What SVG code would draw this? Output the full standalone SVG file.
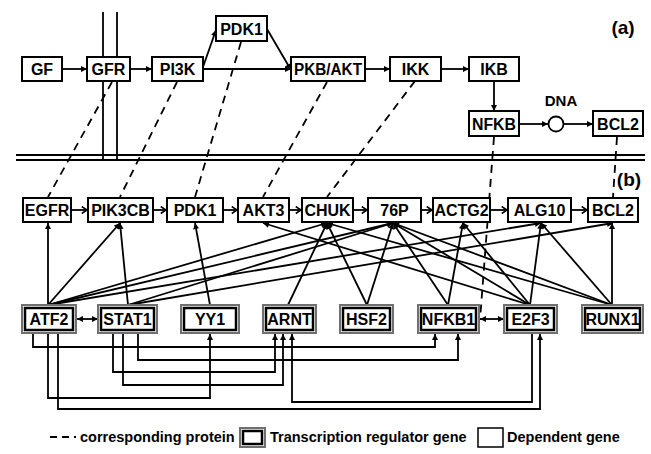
<svg xmlns="http://www.w3.org/2000/svg" width="651" height="454" viewBox="0 0 651 454">
<defs>
<marker id="ah" viewBox="0 0 8 8" refX="8" refY="4" markerWidth="7" markerHeight="6" orient="auto-start-reverse" markerUnits="userSpaceOnUse"><path d="M0,0 L8,4 L0,8 z" fill="#000"/></marker>
<marker id="ch" viewBox="0 0 8 10" refX="7" refY="5" markerWidth="7" markerHeight="9" orient="auto" markerUnits="userSpaceOnUse"><path d="M1,1 L7,5 L1,9" fill="none" stroke="#000" stroke-width="1.8"/></marker>
</defs>
<style>
.b{fill:#fff;stroke:#000;stroke-width:2}
.ro{fill:#fff;stroke:#707070;stroke-width:2}
.ri{fill:none;stroke:#000;stroke-width:2.5}
.t{font-family:"Liberation Sans",Arial,sans-serif;font-weight:bold;font-size:16px;text-anchor:middle}
.e{stroke:#000;stroke-width:1.8;fill:none}
.a{marker-end:url(#ah)}
.c{marker-end:url(#ch)}
.d{stroke:#000;stroke-width:1.8;fill:none;stroke-dasharray:8 6}
.mem{stroke:#000;stroke-width:1.8;fill:none}
.lg{font-family:"Liberation Sans",Arial,sans-serif;font-weight:bold;font-size:14.5px}
</style>
<rect width="651" height="454" fill="#fff"/>

<g id="membrane">
<path class="mem" d="M16,155 H645 M16,160 H645 M103,12 V160 M117,12 V160"/>
</g>

<g id="connectors">
<path class="e a" d="M62,69 H87"/>
<path class="e a" d="M130,69 H152"/>
<path class="e a" d="M203,67 L216,30"/>
<path class="e a" d="M203,69 H291"/>
<path class="e a" d="M267,29 L291,70"/>
<path class="e a" d="M365,69 H390"/>
<path class="e a" d="M441,69 H469"/>
<path class="e a" d="M494,81 V111"/>
<path class="e a" d="M519,124 H548"/>
<path class="e a" d="M564,124 H593"/>
<path class="d" d="M112,82 L48,197"/>
<path class="d" d="M177,82 L120,197"/>
<path class="d" d="M241,42 L195,197"/>
<path class="d" d="M327,82 L263,197"/>
<path class="d" d="M415,81 L327,197"/>
<path class="d" d="M494,137 L480,320"/>
<path class="d" d="M617,137 L613,197"/>
<path class="e c" d="M71,210 H87"/>
<path class="e c" d="M153,210 H166"/>
<path class="e c" d="M223,210 H237"/>
<path class="e c" d="M289,210 H301"/>
<path class="e c" d="M353,210 H367"/>
<path class="e c" d="M421,210 H432"/>
<path class="e c" d="M490,210 H507"/>
<path class="e c" d="M571,210 H587"/>
<path class="e a" d="M48,305 V223"/>
<path class="e a" d="M48,305 L120,223"/>
<path class="e a" d="M128,305 L120,223"/>
<path class="e a" d="M210,305 L195,223"/>
<path class="e a" d="M530,305 L263,223"/>
<path class="e a" d="M48,305 L327,223"/>
<path class="e a" d="M288,305 L327,223"/>
<path class="e a" d="M367,305 L327,223"/>
<path class="e a" d="M48,305 L393,223"/>
<path class="e a" d="M128,305 L393,223"/>
<path class="e a" d="M367,305 L393,223"/>
<path class="e a" d="M448,305 L393,223"/>
<path class="e a" d="M530,305 L393,223"/>
<path class="e a" d="M612,305 L393,223"/>
<path class="e a" d="M612,305 L327,223"/>
<path class="e a" d="M448,305 L463,223"/>
<path class="e a" d="M530,305 L463,223"/>
<path class="e a" d="M48,305 L541,223"/>
<path class="e a" d="M530,305 L541,223"/>
<path class="e a" d="M612,305 L541,223"/>
<path class="e a" d="M128,305 L613,223"/>
<path class="e a" d="M612,305 V223"/>
<path class="e a" d="M33,333 V347 H435 V334"/>
<path class="e a" d="M48,333 V398 H210 V334"/>
<path class="e a" d="M58,333 V409 H540 V334"/>
<path class="e a" d="M113,333 V372 H275 V334"/>
<path class="e a" d="M123,333 V385 H283 V334"/>
<path class="e a" d="M138,333 V360 H458 V334"/>
<path class="e a" d="M532,333 V402 H292 V334"/>
<path class="e a" d="M77,319 H98" style="marker-start:url(#ah)"/>
<path class="e a" d="M480,319 H504" style="marker-start:url(#ah)"/>
</g>

<g id="a_GF"><rect class="b" x="22" y="57" width="40" height="24"/><text class="t" x="42" y="75">GF</text></g>
<g id="a_GFR"><rect class="b" x="87" y="57" width="43" height="24"/><text class="t" x="108.5" y="75">GFR</text></g>
<g id="a_PI3K"><rect class="b" x="152" y="57" width="51" height="24"/><text class="t" x="177.5" y="75">PI3K</text></g>
<g id="a_PDK1"><rect class="b" x="216" y="16" width="51" height="25"/><text class="t" x="241.5" y="34.5">PDK1</text></g>
<g id="a_PKBAKT"><rect class="b" x="291" y="57" width="74" height="24"/><text class="t" x="328" y="75" textLength="68" lengthAdjust="spacingAndGlyphs">PKB/AKT</text></g>
<g id="a_IKK"><rect class="b" x="390" y="57" width="51" height="24"/><text class="t" x="415.5" y="75">IKK</text></g>
<g id="a_IKB"><rect class="b" x="469" y="57" width="50" height="24"/><text class="t" x="494" y="75">IKB</text></g>
<g id="a_NFKB"><rect class="b" x="469" y="111" width="50" height="25"/><text class="t" x="494" y="129.5" textLength="44" lengthAdjust="spacingAndGlyphs">NFKB</text></g>
<g id="a_DNA"><circle cx="556" cy="124" r="7.5" fill="#fff" stroke="#000" stroke-width="1.8"/><text class="t" x="561" y="106" style="font-size:15px">DNA</text></g>
<g id="a_BCL2"><rect class="b" x="593" y="111" width="50" height="25"/><text class="t" x="618" y="129.5">BCL2</text></g>
<text class="t" x="623" y="34" style="font-size:19px">(a)</text>
<text class="t" x="629" y="186" style="font-size:19px">(b)</text>

<g id="b_EGFR"><rect class="b" x="23" y="198" width="48" height="24"/><text class="t" x="47" y="216">EGFR</text></g>
<g id="b_PIK3CB"><rect class="b" x="88" y="198" width="65" height="24"/><text class="t" x="120.5" y="216">PIK3CB</text></g>
<g id="b_PDK1"><rect class="b" x="167" y="198" width="56" height="24"/><text class="t" x="195" y="216">PDK1</text></g>
<g id="b_AKT3"><rect class="b" x="238" y="198" width="51" height="24"/><text class="t" x="263.5" y="216">AKT3</text></g>
<g id="b_CHUK"><rect class="b" x="302" y="198" width="51" height="24"/><text class="t" x="327.5" y="216">CHUK</text></g>
<g id="b_76P"><rect class="b" x="368" y="198" width="53" height="24"/><text class="t" x="394.5" y="216">76P</text></g>
<g id="b_ACTG2"><rect class="b" x="433" y="198" width="57" height="24"/><text class="t" x="461.5" y="216">ACTG2</text></g>
<g id="b_ALG10"><rect class="b" x="508" y="198" width="63" height="24"/><text class="t" x="539.5" y="216">ALG10</text></g>
<g id="b_BCL2"><rect class="b" x="588" y="198" width="50" height="24"/><text class="t" x="613" y="216">BCL2</text></g>

<g id="r_ATF2"><rect class="ro" x="22" y="305" width="54" height="28"/><rect class="ri" x="25" y="308" width="48" height="22"/><text class="t" x="49" y="325">ATF2</text></g>
<g id="r_STAT1"><rect class="ro" x="98" y="305" width="59" height="28"/><rect class="ri" x="101" y="308" width="53" height="22"/><text class="t" x="127.5" y="325">STAT1</text></g>
<g id="r_YY1"><rect class="ro" x="181" y="305" width="58" height="28"/><rect class="ri" x="184" y="308" width="52" height="22"/><text class="t" x="210" y="325">YY1</text></g>
<g id="r_ARNT"><rect class="ro" x="263" y="305" width="53" height="28"/><rect class="ri" x="266" y="308" width="47" height="22"/><text class="t" x="289.5" y="325">ARNT</text></g>
<g id="r_HSF2"><rect class="ro" x="340" y="305" width="53" height="28"/><rect class="ri" x="343" y="308" width="47" height="22"/><text class="t" x="366.5" y="325">HSF2</text></g>
<g id="r_NFKB1"><rect class="ro" x="418" y="305" width="61" height="28"/><rect class="ri" x="421" y="308" width="55" height="22"/><text class="t" x="448.5" y="325">NFKB1</text></g>
<g id="r_E2F3"><rect class="ro" x="504" y="305" width="53" height="28"/><rect class="ri" x="507" y="308" width="47" height="22"/><text class="t" x="530.5" y="325">E2F3</text></g>
<g id="r_RUNX1"><rect class="ro" x="582" y="305" width="61" height="28"/><rect class="ri" x="585" y="308" width="55" height="22"/><text class="t" x="612.5" y="325">RUNX1</text></g>

<g id="legend">
<path d="M50,437 H57 M62,437 H69 M74,437 H76" stroke="#000" stroke-width="1.8"/>
<text class="lg" x="80" y="442">corresponding protein</text>
<rect class="ro" x="240" y="428" width="25" height="19"/><rect class="ri" x="243" y="431" width="19" height="13"/>
<text class="lg" x="270" y="442">Transcription regulator gene</text>
<rect x="478" y="428" width="25" height="19" fill="#fff" stroke="#000" stroke-width="1.5"/>
<text class="lg" x="507" y="442">Dependent gene</text>
</g>
</svg>
